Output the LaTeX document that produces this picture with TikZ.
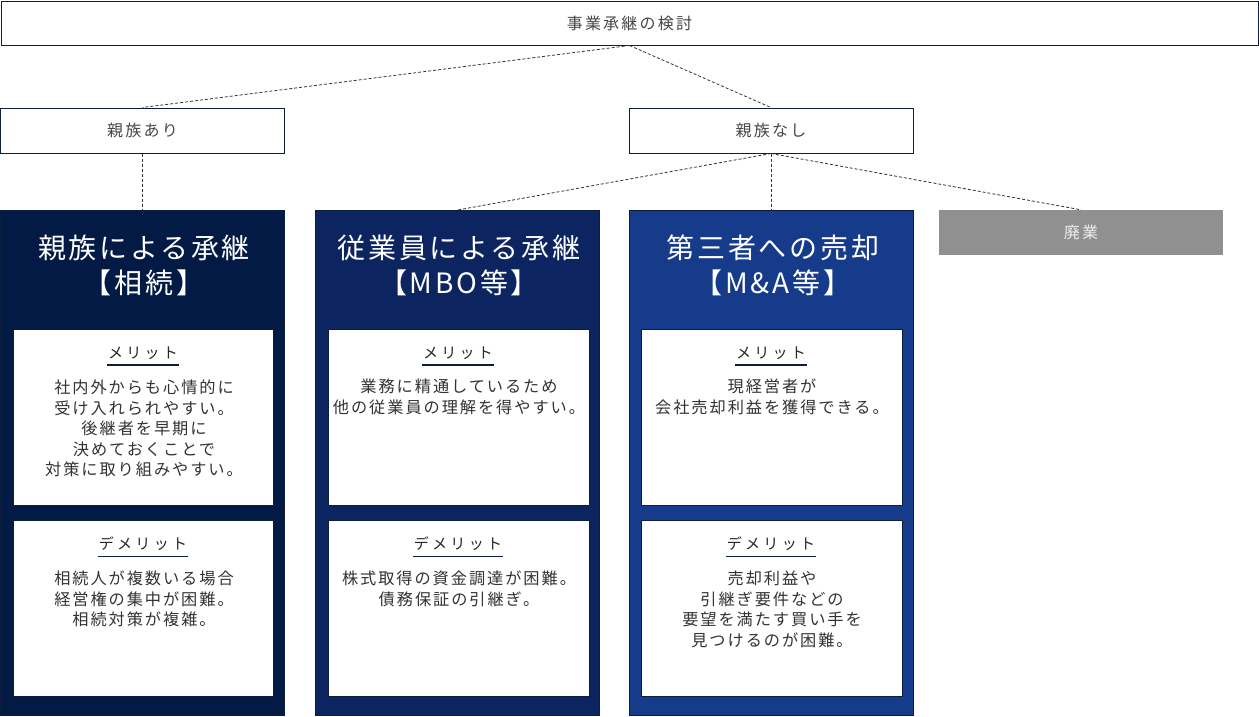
\documentclass[tikz,border=0pt]{standalone}
\usepackage{fontspec}
\newfontfamily\jp{Noto Sans CJK JP}
\newfontfamily\jpsp[LetterSpace=14]{Noto Sans CJK JP}
\newfontfamily\jpbody[LetterSpace=12]{Noto Sans CJK JP}
\newfontfamily\jplab[LetterSpace=22]{Noto Sans CJK JP}
\newfontfamily\jptitle[LetterSpace=10]{Noto Sans CJK JP}
\definecolor{navyA}{HTML}{021A44}
\definecolor{navyB}{HTML}{0C2460}
\definecolor{navyC}{HTML}{163B8A}
\definecolor{grayF}{HTML}{909090}
\definecolor{bord}{HTML}{0B1E3C}
\definecolor{txt}{HTML}{333333}
\definecolor{conncol}{HTML}{333333}
\tikzset{
  topbox/.style={draw=bord, line width=1pt, fill=white, text=txt!90, inner sep=0pt,
    font={\jpsp\fontsize{16}{20}\selectfont}},
  colbox/.style={draw=bord, line width=0.8pt, inner sep=0pt, minimum width=284pt, minimum height=505pt},
  inbox/.style={draw=bord, line width=0.8pt, fill=white, inner sep=0pt, minimum width=260pt, minimum height=176pt},
  titletext/.style={anchor=north, text=white, align=center, inner sep=0pt,
    font={\jptitle\fontsize{28}{35}\selectfont}},
  labtext/.style={text=black!85, inner xsep=1pt, inner ysep=5.5pt,
    font={\jplab\fontsize{15}{18}\selectfont}},
  uline/.style={draw=bord, line width=1.2pt},
  bodytext/.style={anchor=north, text=txt, align=center, inner sep=0pt,
    font={\jpbody\fontsize{16.2}{20.5}\selectfont}},
  conn/.style={draw=conncol, line width=0.8pt, dash pattern=on 3pt off 2pt}
}
\begin{document}
\begin{tikzpicture}[x=1pt,y=-1pt]
\useasboundingbox (0,0) rectangle (1259,716);
% top level
\node[topbox, minimum width=1257pt, minimum height=44pt] (top) at (629.5,23) {事業承継の検討};
\node[topbox, minimum width=284pt, minimum height=45pt] (k1) at (142.5,130.5) {親族あり};
\node[topbox, minimum width=284pt, minimum height=45pt] (k2) at (771,130.5) {親族なし};
% columns
\node[colbox, fill=navyA] (c1) at (142.5,462.5) {};
\node[colbox, fill=navyB] (c2) at (457,463) {};
\node[colbox, fill=navyC] (c3) at (771,462.5) {};
\node[fill=grayF, inner sep=0pt, minimum width=284pt, minimum height=45pt, text=white!93!black,
  font={\jpsp\fontsize{16}{20}\selectfont}] (g) at (1081,232.5) {廃業};
% titles
\node[titletext] (t1) at (144,235) {親族による承継\\【相続】};
\node[titletext] (t2) at (459,235) {従業員による承継\\【MBO等】};
\node[titletext] (t3) at (773,235) {第三者への売却\\【M\&A等】};
% inner boxes
\node[inbox] (m1) at (143,417) {};
\node[inbox] (d1) at (143,608) {};
\node[inbox, minimum width=261pt] (m2) at (458.5,417) {};
\node[inbox, minimum width=261pt] (d2) at (458.5,608) {};
\node[inbox, minimum width=261pt] (m3) at (771.5,417) {};
\node[inbox, minimum width=261pt] (d3) at (771.5,608) {};
% labels
\node[labtext] (m1l) at (143,353) {メリット};
\node[labtext] (d1l) at (143,544) {デメリット};
\node[labtext] (m2l) at (458,353) {メリット};
\node[labtext] (d2l) at (458,544) {デメリット};
\node[labtext] (m3l) at (771,353) {メリット};
\node[labtext] (d3l) at (771,544) {デメリット};
\foreach \n in {m1l,d1l,m2l,d2l,m3l,d3l}{
  \draw[uline] (\n.south west) -- (\n.south east);
}
% body texts
\node[bodytext] (m1t) at (144,380) {社内外からも心情的に\\受け入れられやすい。\\後継者を早期に\\決めておくことで\\対策に取り組みやすい。};
\node[bodytext] (d1t) at (144,571) {相続人が複数いる場合\\経営権の集中が困難。\\相続対策が複雑。};
\node[bodytext] (m2t) at (459,379) {業務に精通しているため\\他の従業員の理解を得やすい。};
\node[bodytext] (d2t) at (459,571) {株式取得の資金調達が困難。\\債務保証の引継ぎ。};
\node[bodytext] (m3t) at (772,379) {現経営者が\\会社売却利益を獲得できる。};
\node[bodytext] (d3t) at (772,571) {売却利益や\\引継ぎ要件などの\\要望を満たす買い手を\\見つけるのが困難。};
% connectors
\draw[conn] (top.south) -- (k1.north);
\draw[conn] (top.south) -- (k2.north);
\draw[conn] (k1.south) -- (c1.north);
\draw[conn] (k2.south) -- (c2.north);
\draw[conn] (k2.south) -- (c3.north);
\draw[conn] (k2.south) -- (g.north);
\end{tikzpicture}
\end{document}
